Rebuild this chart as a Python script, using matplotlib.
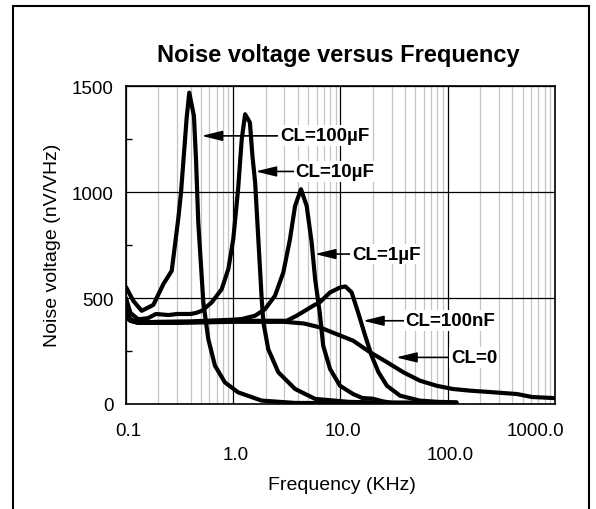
import matplotlib
matplotlib.use('Agg')
import matplotlib.pyplot as plt
from matplotlib.patches import Rectangle
from matplotlib.ticker import FixedLocator, LogLocator, NullFormatter

plt.rcParams['font.family'] = ['Liberation Sans', 'DejaVu Sans']

# Curves: frequency (KHz) and noise voltage (nV/VHz)
f_100u = [0.1, 0.117, 0.14, 0.18, 0.223, 0.267, 0.308, 0.326, 0.368, 0.389, 0.43, 0.45,
          0.472, 0.526, 0.585, 0.675, 0.836, 1.11, 1.84, 3.77, 10, 30, 60]
v_100u = [552, 487, 440, 468, 566, 629, 880, 1000, 1352, 1470, 1360, 1150,
          857, 480, 307, 181, 102, 55, 16, 5, 4, 3, 3]

f_10u = [0.1, 0.11, 0.13, 0.16, 0.19, 0.25, 0.3, 0.4, 0.45, 0.51, 0.63, 0.78, 0.9, 1.0,
         1.11, 1.2, 1.29, 1.43, 1.51, 1.6, 1.84, 1.91, 2.12, 2.63, 3.77, 5.8, 12, 30, 120]
v_10u = [500, 430, 400, 405, 425, 420, 425, 425, 430, 440, 480, 542, 637, 778,
         1014, 1250, 1368, 1329, 1171, 1046, 500, 385, 259, 150, 71, 24, 10, 6, 5]

f_1u = [0.1, 0.11, 0.13, 0.2, 0.4, 0.7, 1.0, 1.2, 1.6, 1.98, 2.45, 2.93, 3.38, 3.77, 4.28,
        4.84, 5.39, 5.8, 6.4, 6.9, 8.0, 9.9, 13.1, 16, 20, 25, 30, 120]
v_1u = [460, 400, 385, 388, 390, 395, 398, 401, 417, 448, 511, 621, 778, 935, 1014,
        935, 760, 590, 432, 275, 165, 86, 47, 28, 25, 12, 6, 5]

f_100n = [0.1, 0.11, 0.13, 0.3, 1.0, 2.0, 3.15, 3.91, 5.57, 6.4, 8.0, 9.9, 11.1, 12.7, 14.6,
          17.0, 19.5, 22.6, 27.1, 36, 55, 80, 121]
v_100n = [430, 395, 383, 385, 392, 393, 393, 417, 464, 480, 527, 550, 555, 527, 432,
          322, 228, 150, 86, 39, 16, 10, 8]

f_0 = [0.1, 0.11, 0.13, 0.3, 1.0, 3.0, 4.57, 6.4, 9.2, 13.1, 18.9, 27.2, 38.5, 55,
       79, 111, 161, 270, 442, 611, 980]
v_0 = [410, 392, 383, 383, 388, 388, 380, 362, 330, 299, 244, 197, 150, 110,
       86, 71, 63, 55, 47, 33, 28]

x_ticks = [0.1, 1.0, 10.0, 100.0, 1000.0]
x_tick_labels = ['0.1', '1.0', '10.0', '100.0', '1000.0']
y_ticks = [0, 500, 1000, 1500]
y_tick_labels = ['0', '500', '1000', '1500']

# curve labels: text, arrow tip (f, V), text start f
note_labels = ['CL=100µF', 'CL=10µF', 'CL=1µF', 'CL=100nF', 'CL=0']
note_tip_f = [0.506, 1.61, 5.76, 16.2, 32.9]
note_tip_v = [1266, 1098, 708, 393, 220]
note_text_f = [2.75, 3.8, 12.9, 40.5, 108]

fig = plt.figure(figsize=(5.96, 5.10), dpi=100)
ax = fig.add_axes([0.2114, 0.2059, 0.7198, 0.6229])

for f, v in [(f_100u, v_100u), (f_10u, v_10u), (f_1u, v_1u), (f_100n, v_100n), (f_0, v_0)]:
    ax.plot(f, v, color='black', lw=3, solid_joinstyle='round', solid_capstyle='round', zorder=2)

ax.set_xscale('log')
ax.set_xlim(0.1, 1000)
ax.set_ylim(0, 1500)
ax.xaxis.set_major_locator(FixedLocator(x_ticks))
ax.xaxis.set_minor_locator(LogLocator(base=10, subs=range(2, 10)))
ax.xaxis.set_major_formatter(NullFormatter())
ax.xaxis.set_minor_formatter(NullFormatter())
ax.set_yticks(y_ticks)
ax.set_yticklabels(y_tick_labels)
ax.yaxis.set_minor_locator(FixedLocator([250, 750, 1250]))

ax.tick_params(axis='x', which='both', length=0)
ax.tick_params(axis='y', which='major', length=0, pad=9, labelsize=13.5)
ax.tick_params(axis='y', which='minor', direction='in', length=4, width=1)

ax.set_axisbelow(True)
ax.grid(which='major', axis='both', color='black', lw=0.9)
ax.grid(which='minor', axis='x', color='#c4c4c4', lw=0.9)
for s in ax.spines.values():
    s.set_linewidth(1.2)

# staggered x tick labels
for i, (xv, lbl) in enumerate(zip(x_ticks, x_tick_labels)):
    dy = -13 if i % 2 == 0 else -30
    dx = -14 if i == len(x_ticks) - 1 else 2
    ax.annotate(lbl, xy=(xv, 0), xycoords=ax.get_xaxis_transform(), xytext=(dx, dy),
                textcoords='offset points', ha='center', va='top', fontsize=13.5,
                annotation_clip=False)

for lbl, tf, tv, xf in zip(note_labels, note_tip_f, note_tip_v, note_text_f):
    ax.annotate(lbl, xy=(tf, tv), xytext=(xf, tv), ha='left', va='center',
                fontsize=13.5, fontweight='bold',
                bbox=dict(boxstyle='square,pad=0.1', fc='white', ec='none'),
                arrowprops=dict(arrowstyle='-|>,head_length=0.9,head_width=0.22',
                                color='black', lw=1.2, shrinkA=0, shrinkB=0,
                                mutation_scale=14))

fig.text(0.567, 0.892, 'Noise voltage versus Frequency', ha='center', va='center',
         fontsize=17, fontweight='bold')
fig.text(0.574, 0.049, 'Frequency (KHz)', ha='center', va='center', fontsize=14)
fig.text(0.0889, 0.5196, 'Noise voltage (nV/VHz)', ha='center', va='center',
         rotation=90, fontsize=14)

# outer frame (bottom edge runs off the picture)
fig.patches.append(Rectangle((13 / 596, -0.05), 576 / 596, 1.05 - 7 / 510,
                             transform=fig.transFigure, fill=False,
                             edgecolor='black', lw=1.5))

fig.savefig('out.png', dpi=100)
